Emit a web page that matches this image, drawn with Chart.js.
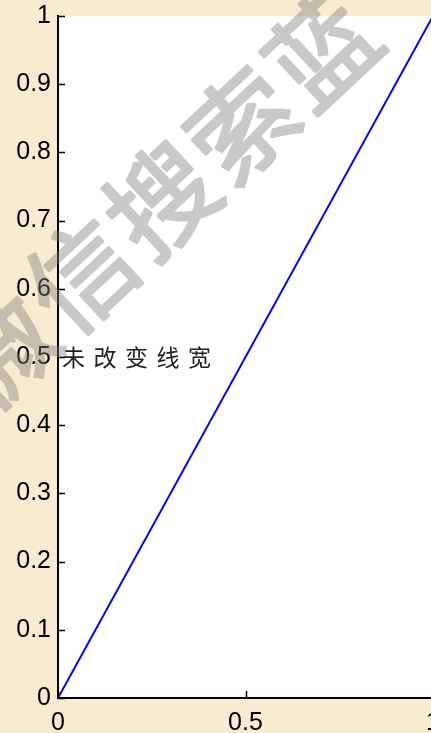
<!DOCTYPE html>
<html>
<head>
<meta charset="utf-8">
<script src="https://cdn.jsdelivr.net/npm/chart.js@4.4.1/dist/chart.umd.min.js"></script>
<style>
  html, body { margin: 0; padding: 0; overflow: hidden; background: #f9ebd0; }
  #wrap { width: 440px; height: 733px; position: relative; }
</style>
</head>
<body>
<div id="wrap"><canvas id="grafico"></canvas></div>
<script>
// dados
const xValores = [0, 1];
const yValores = [0, 1];
const xTicks = [0, 0.5, 1];
const yTicks = [0, 0.1, 0.2, 0.3, 0.4, 0.5, 0.6, 0.7, 0.8, 0.9, 1];
const anotacao = '未改变线宽';
const anotacaoPos = [0, 0.5];
const marcaDagua = '微信搜索蓝';

const fundo = '#f9ebd0';

const pluginFundo = {
  id: 'fundo',
  beforeDraw(chart) {
    const ctx = chart.ctx, a = chart.chartArea;
    ctx.save();
    ctx.fillStyle = fundo;
    ctx.fillRect(0, 0, chart.width, chart.height);
    ctx.fillStyle = '#ffffff';
    ctx.fillRect(a.left, a.top, a.right - a.left, a.bottom - a.top);
    ctx.restore();
  }
};

// ticks para dentro, como no matlab
const pluginTicks = {
  id: 'ticksDentro',
  afterDatasetsDraw(chart) {
    const ctx = chart.ctx, a = chart.chartArea;
    const sx = chart.scales.x, sy = chart.scales.y;
    ctx.save();
    ctx.strokeStyle = '#000';
    ctx.lineWidth = 1.5;
    ctx.beginPath();
    yTicks.forEach(v => {
      const y = Math.round(sy.getPixelForValue(v)) + 0.5;
      ctx.moveTo(a.left, y);
      ctx.lineTo(a.left + 7, y);
    });
    xTicks.forEach(v => {
      const x = Math.round(sx.getPixelForValue(v)) + 0.5;
      ctx.moveTo(x, a.bottom);
      ctx.lineTo(x, a.bottom - 7);
    });
    ctx.stroke();

    // texto
    ctx.fillStyle = '#222';
    ctx.font = '23px "Noto Sans CJK SC", sans-serif';
    ctx.textBaseline = 'middle';
    ctx.textAlign = 'left';
    let tx = sx.getPixelForValue(anotacaoPos[0]) + 4;
    const ty = sy.getPixelForValue(anotacaoPos[1]);
    for (const c of anotacao) {
      ctx.fillText(c, tx, ty);
      tx += 31.5;
    }
    ctx.restore();
  },
  afterDraw(chart) {
    // marca d'agua num canvas separado, depois com transparencia
    const off = document.createElement('canvas');
    off.width = chart.width;
    off.height = chart.height;
    const o = off.getContext('2d');
    o.translate(0, 350);
    o.rotate(-43 * Math.PI / 180);
    o.fillStyle = '#808080';
    o.strokeStyle = '#808080';
    o.lineWidth = 3;
    o.lineJoin = 'round';
    o.font = '106px "Noto Sans CJK SC", sans-serif';
    o.textAlign = 'center';
    o.textBaseline = 'middle';
    [...marcaDagua].forEach((c, i) => {
      o.fillText(c, i * 110, 0);
      o.strokeText(c, i * 110, 0);
    });
    const ctx = chart.ctx;
    ctx.save();
    ctx.globalAlpha = 0.42;
    ctx.drawImage(off, 0, 0);
    ctx.restore();
  }
};

const formato = v => String(+Number(v).toFixed(1));

let grafico = new Chart(document.getElementById('grafico').getContext('2d'), {
  type: 'scatter',
  data: {
    datasets: [{
      data: xValores.map((x, i) => ({ x: x, y: yValores[i] })),
      showLine: true,
      borderColor: '#0000ff',
      borderWidth: 2,
      pointRadius: 0,
      fill: false
    }]
  },
  options: {
    responsive: true,
    maintainAspectRatio: false,
    animation: false,
    devicePixelRatio: 1,
    layout: { autoPadding: false, padding: { top: 16, right: 7, left: 0, bottom: 0 } },
    plugins: { legend: { display: false }, tooltip: { enabled: false } },
    scales: {
      x: {
        type: 'linear',
        min: 0, max: 1,
        afterBuildTicks: s => { s.ticks = xTicks.map(v => ({ value: v })); },
        afterFit: s => { s.height = 35; s.paddingLeft = 0; s.paddingRight = 0; },
        grid: { display: false, drawTicks: false },
        border: { display: true, color: '#000', width: 2 },
        ticks: { color: '#000', font: { family: '"Liberation Sans", Arial, sans-serif', size: 25 }, padding: 10, maxRotation: 0, callback: formato }
      },
      y: {
        type: 'linear',
        min: 0, max: 1,
        afterBuildTicks: s => { s.ticks = yTicks.map(v => ({ value: v })); },
        afterFit: s => { s.width = 58; s.paddingTop = 0; s.paddingBottom = 0; },
        grid: { display: false, drawTicks: false },
        border: { display: true, color: '#000', width: 2 },
        ticks: { color: '#000', font: { family: '"Liberation Sans", Arial, sans-serif', size: 25 }, padding: 7, callback: formato }
      }
    }
  },
  plugins: [pluginFundo, pluginTicks]
});
</script>
</body>
</html>
